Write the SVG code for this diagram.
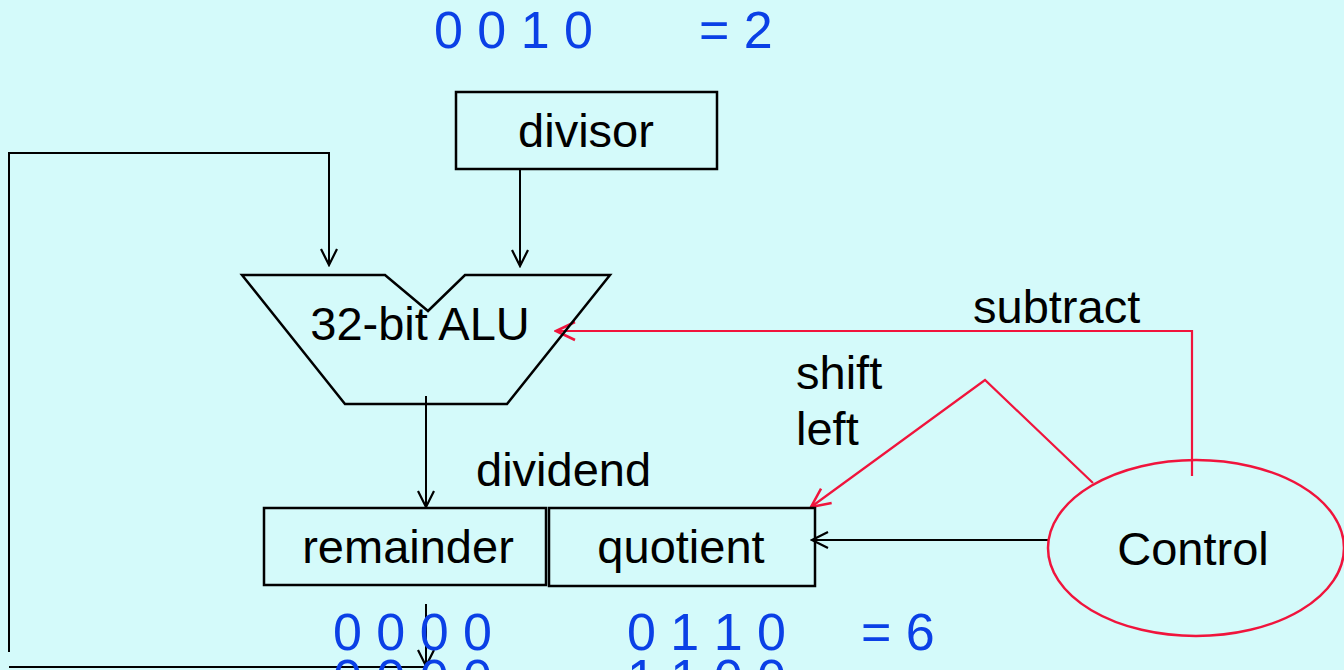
<svg xmlns="http://www.w3.org/2000/svg" width="1344" height="670" viewBox="0 0 1344 670">
<defs>
<style>
.lbl{font-family:"Liberation Sans",Arial,sans-serif;font-size:47px;fill:#000}
.num{font-family:"Liberation Sans",Arial,sans-serif;font-size:52px;fill:#0b40e6}
.box{fill:none;stroke:#000;stroke-width:2.5}
.blk{fill:none;stroke:#000;stroke-width:2}
.red{fill:none;stroke:#f0143c;stroke-width:2.2}
</style>
<marker id="ab" viewBox="0 0 20 20" refX="18" refY="10" markerWidth="20" markerHeight="20" markerUnits="userSpaceOnUse" orient="auto">
<path d="M2,2 L18,10 L2,18" fill="none" stroke="#000" stroke-width="2.2"/>
</marker>
<marker id="ar" viewBox="0 0 24 24" refX="22" refY="12" markerWidth="24" markerHeight="24" markerUnits="userSpaceOnUse" orient="auto">
<path d="M3,3 L22,12 L3,21" fill="none" stroke="#f0143c" stroke-width="2.5"/>
</marker>
</defs>
<rect width="1344" height="670" fill="#d4fafa"/>

<g id="connectors">
<path class="blk" d="M520,169 V266" marker-end="url(#ab)"/>
<path class="blk" d="M9,652 V153 H329 V265" marker-end="url(#ab)"/>
<path class="blk" d="M426,396 V507" marker-end="url(#ab)"/>
<path class="blk" d="M426,604 V666" marker-end="url(#ab)"/>
<path class="blk" d="M9,667 H426" stroke-width="3"/>
<path class="blk" d="M1048,540 H812" marker-end="url(#ab)"/>
<path class="red" d="M1192,476 V331 H556" marker-end="url(#ar)"/>
<path class="red" d="M1093,483 L985,380 L811,507" marker-end="url(#ar)"/>
</g>

<g id="divisor">
<rect class="box" x="456" y="92" width="261" height="77"/>
<text class="lbl" x="586" y="147" text-anchor="middle">divisor</text>
</g>

<g id="alu">
<path class="box" d="M242,275 H385 L428,311 L465,275 H610 L507,404 H345 Z" stroke-width="3"/>
<text class="lbl" x="420" y="340" text-anchor="middle">32-bit ALU</text>
</g>

<g id="remainder">
<rect class="box" x="264" y="508" width="282" height="77"/>
<text class="lbl" x="408" y="563" text-anchor="middle">remainder</text>
</g>

<g id="quotient">
<rect class="box" x="549" y="508" width="266" height="78"/>
<text class="lbl" x="681" y="563" text-anchor="middle">quotient</text>
</g>

<g id="control">
<ellipse cx="1196" cy="548" rx="148" ry="88" fill="none" stroke="#f0143c" stroke-width="2.5"/>
<text class="lbl" x="1193" y="565" text-anchor="middle">Control</text>
</g>

<g id="labels">
<text class="lbl" x="973" y="323" font-size="48">subtract</text>
<text class="lbl" x="796" y="389">shift</text>
<text class="lbl" x="796" y="445">left</text>
<text class="lbl" x="476" y="486" font-size="48">dividend</text>
</g>

<g id="numbers">
<text class="num" x="434" y="48">0 0 1 0</text>
<text class="num" x="699" y="48">= 2</text>
<text class="num" x="333" y="650">0 0 0 0</text>
<text class="num" x="627" y="650">0 1 1 0</text>
<text class="num" x="861" y="650">= 6</text>
<text class="num" x="333" y="696">0 0 0 0</text>
<text class="num" x="627" y="696">1 1 0 0</text>
</g>
</svg>
